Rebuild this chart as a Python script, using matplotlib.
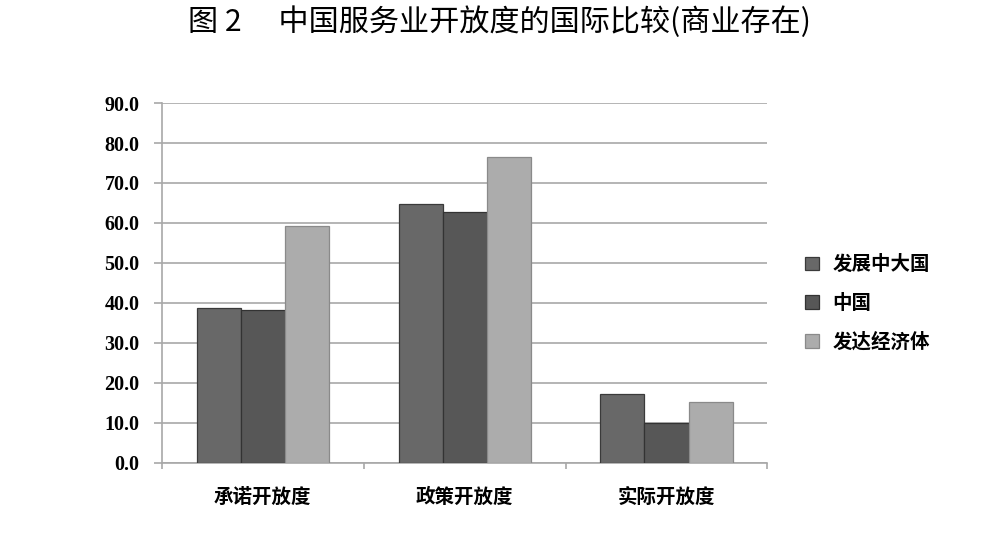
import numpy as np
import matplotlib
matplotlib.use("Agg")
import matplotlib.pyplot as plt
from matplotlib.patches import Patch

plt.rcParams['font.family'] = ['Noto Sans CJK SC', 'DejaVu Sans']

categories = ['承诺开放度', '政策开放度', '实际开放度']
series_names = ['发展中大国', '中国', '发达经济体']
developing = [38.7, 64.8, 17.1]
china = [38.3, 62.8, 10.0]
developed = [59.3, 76.6, 15.2]
yticks = [0, 10, 20, 30, 40, 50, 60, 70, 80, 90]

colors = ['#686868', '#575757', '#acacac']
edges = ['#3a3a3a', '#333333', '#8a8a8a']

fig = plt.figure(figsize=(9.98, 5.51), dpi=100)
ax = fig.add_axes([0.162, 0.160, 0.607, 0.653])

x = np.arange(len(categories))
w = 0.218
for i, vals in enumerate([developing, china, developed]):
    ax.bar(x + (i - 1) * w, vals, width=w, color=colors[i], edgecolor=edges[i],
           linewidth=0.9, zorder=3)

ax.set_xlim(-0.5, 2.5)
ax.set_ylim(0, 90)
ax.set_yticks(yticks)
ax.set_yticklabels([f'{v:.1f}' for v in yticks], family='Liberation Serif',
                   fontweight='bold', fontsize=14.5)
ax.yaxis.grid(True, color='#a8a8a8', linewidth=1.2, zorder=0)
ax.tick_params(axis='y', length=6, color='#a8a8a8', width=1.2, pad=10)

ax.set_xticks(x)
ax.set_xticklabels(categories, fontsize=14, fontweight='bold')
ax.set_xticks([-0.5, 0.5, 1.5, 2.5], minor=True)
ax.tick_params(axis='x', which='major', length=0, pad=18)
ax.tick_params(axis='x', which='minor', length=4, color='#a8a8a8', width=1.2)

for s in ['top', 'right']:
    ax.spines[s].set_visible(False)
for s in ['left', 'bottom']:
    ax.spines[s].set_color('#a8a8a8')
    ax.spines[s].set_linewidth(1.2)

handles = [Patch(facecolor=colors[i], edgecolor=edges[i], linewidth=0.9) for i in range(3)]
fig.legend(handles, series_names, loc='upper left', bbox_to_anchor=(0.807, 0.537),
           frameon=False, borderpad=0, borderaxespad=0, handlelength=0.7,
           handleheight=0.7, handletextpad=0.7, labelspacing=1.0,
           prop={'family': 'Noto Sans CJK SC', 'weight': 'bold', 'size': 14})

fig.text(0.5, 1 - 22 / 551, '图 2　 中国服务业开放度的国际比较(商业存在)', ha='center',
         va='center', fontsize=21.7)

fig.savefig('out.png', dpi=100)
